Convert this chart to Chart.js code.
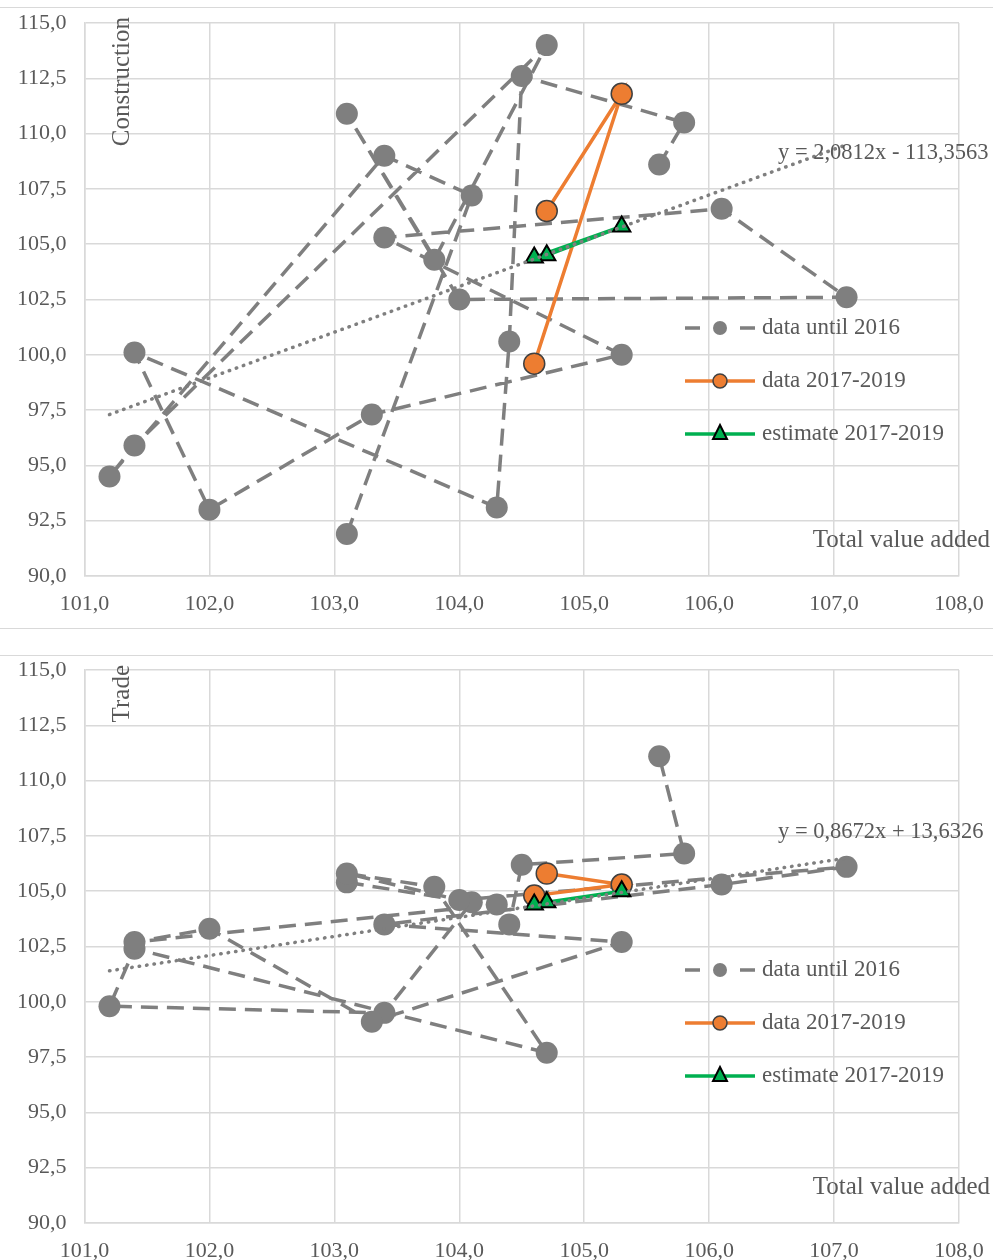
<!DOCTYPE html>
<html>
<head>
<meta charset="utf-8">
<script src="https://cdn.jsdelivr.net/npm/chart.js@4.4.1/dist/chart.umd.min.js"></script>
<style>
  body { margin: 0; background: #fff; width: 993px; height: 1260px; overflow: hidden; position: relative; }
  canvas { position: absolute; left: 0; }
  #construction { top: 0; }
  #trade { top: 647px; }
  .rule { position: absolute; left: 0; width: 993px; height: 0; border-top: 1.5px solid #d9d9d9; }
</style>
</head>
<body>
<div class="rule" style="top:7px"></div>
<div class="rule" style="top:628px"></div>
<div class="rule" style="top:655px"></div>
<canvas id="construction" width="993" height="630"></canvas>
<canvas id="trade" width="993" height="630"></canvas>
<script>
// x: total value added, one value per year (same years in both panels)
const totalValueAdded = [103.1, 104.1, 103.4, 101.2, 101.4, 104.7, 103.8, 103.1, 104.0, 107.1, 106.1,
                         103.4, 105.3, 103.3, 102.0, 101.4, 104.3, 104.4, 104.5, 105.8, 105.6];
const construction = [91.9, 107.2, 109.0, 94.5, 95.9, 114.0, 104.3, 110.9, 102.5, 102.6, 106.6,
                      105.3, 100.0, 97.3, 93.0, 100.1, 93.1, 100.6, 112.6, 110.5, 108.6];
const trade = [105.4, 104.5, 99.5, 99.8, 102.4, 97.7, 105.2, 105.8, 104.6, 106.1, 105.3,
               103.5, 102.7, 99.1, 103.3, 102.7, 104.4, 103.5, 106.2, 106.7, 111.1];

// 2017-2019
const recentX = [104.7, 105.3, 104.6];
const constructionRecent = [106.5, 111.8, 99.6];
const tradeRecent = [105.8, 105.3, 104.8];
const constructionEstimate = [104.5, 105.8, 104.4];
const tradeEstimate = [104.5, 105.0, 104.4];

// trendline ends
const trendX = [101.2, 107.1];
const constructionTrend = [97.3, 109.5];
const tradeTrend = [101.4, 106.5];

const seriesNames = ['data until 2016', 'data 2017-2019', 'estimate 2017-2019'];
const xAxisTitle = 'Total value added';

const FONT = '"Liberation Serif", "Times New Roman", serif';
const TEXT = '#595959';
const GRID = '#d9d9d9';
const GRAY = '#7f7f7f';
const ORANGE = '#ed7d31';
const GREEN = '#00b050';

const fmt = v => v.toFixed(1).replace('.', ',');
const pts = (xs, ys) => xs.map((x, i) => ({ x, y: ys[i] }));

/**
 * Legend, axis titles and trend equation drawn on top
 */
const overlay = {
  id: 'overlay',
  afterDraw(chart, args, opts) {
    const ctx = chart.ctx;
    const area = chart.chartArea;
    ctx.save();
    ctx.fillStyle = TEXT;
    ctx.font = `23px ${FONT}`;

    // legend
    const lx0 = 685, lx1 = 755, mx = 720, tx = 762;
    seriesNames.forEach((name, i) => {
      const y = area.top + opts.legendTop + i * 53;
      ctx.lineWidth = 3.5;
      ctx.setLineDash([]);
      if (i === 0) {
        ctx.strokeStyle = GRAY;
        ctx.beginPath();
        ctx.moveTo(lx0, y); ctx.lineTo(lx0 + 15, y);
        ctx.moveTo(lx1 - 15, y); ctx.lineTo(lx1, y);
        ctx.stroke();
        ctx.fillStyle = GRAY;
        ctx.beginPath(); ctx.arc(mx, y, 7, 0, Math.PI * 2); ctx.fill();
      } else if (i === 1) {
        ctx.strokeStyle = ORANGE;
        ctx.beginPath(); ctx.moveTo(lx0, y); ctx.lineTo(lx1, y); ctx.stroke();
        ctx.fillStyle = ORANGE;
        ctx.strokeStyle = '#404040';
        ctx.lineWidth = 1.5;
        ctx.beginPath(); ctx.arc(mx, y, 7, 0, Math.PI * 2); ctx.fill(); ctx.stroke();
      } else {
        ctx.strokeStyle = GREEN;
        ctx.beginPath(); ctx.moveTo(lx0, y); ctx.lineTo(lx1, y); ctx.stroke();
        ctx.fillStyle = GREEN;
        ctx.strokeStyle = '#000';
        ctx.lineWidth = 2;
        ctx.beginPath();
        ctx.moveTo(mx, y - 9); ctx.lineTo(mx + 7, y + 5); ctx.lineTo(mx - 7, y + 5);
        ctx.closePath(); ctx.fill(); ctx.stroke();
      }
      ctx.fillStyle = TEXT;
      ctx.textAlign = 'left';
      ctx.textBaseline = 'middle';
      ctx.fillText(name, tx, y);
    });

    // trend equation
    ctx.font = `22.5px ${FONT}`;
    ctx.textAlign = 'left';
    ctx.fillText(opts.equation, opts.eqX, opts.eqY);

    // x axis title
    ctx.font = `25px ${FONT}`;
    ctx.textAlign = 'right';
    ctx.fillText(xAxisTitle, 990, area.top + 517);

    // y axis title, rotated
    ctx.translate(122, opts.titleTop);
    ctx.rotate(-Math.PI / 2);
    ctx.textAlign = 'right';
    ctx.fillText(opts.title, 0, 0);
    ctx.restore();
  },
};

function makeChart(id, values, recent, estimate, trend, extra) {
  const ctx = document.getElementById(id).getContext('2d');
  return new Chart(ctx, {
    type: 'scatter',
    data: {
      datasets: [
        {
          label: 'trend',
          data: pts(trendX, trend),
          showLine: true,
          borderColor: GRAY,
          borderWidth: 3.5,
          borderDash: [0.5, 7],
          borderCapStyle: 'round',
          pointRadius: 0,
          order: 0,
        },
        {
          label: seriesNames[2],
          data: pts(recentX, estimate),
          showLine: true,
          borderColor: GREEN,
          borderWidth: 3.5,
          pointStyle: 'triangle',
          pointRadius: 10,
          pointBackgroundColor: GREEN,
          pointBorderColor: '#000',
          pointBorderWidth: 2,
          order: 1,
        },
        {
          label: seriesNames[1],
          data: pts(recentX, recent),
          showLine: true,
          borderColor: ORANGE,
          borderWidth: 3.5,
          pointRadius: 10.5,
          pointBackgroundColor: ORANGE,
          pointBorderColor: '#404040',
          pointBorderWidth: 1.5,
          order: 2,
        },
        {
          label: seriesNames[0],
          data: pts(totalValueAdded, values),
          showLine: true,
          borderColor: GRAY,
          borderWidth: 3.5,
          borderDash: [17, 9],
          pointRadius: 11,
          pointBackgroundColor: GRAY,
          pointBorderWidth: 0,
          order: 3,
        },
      ],
    },
    options: {
      responsive: false,
      animation: false,
      devicePixelRatio: 1,
      layout: { padding: { top: 23, right: 34, left: 0, bottom: 0 } },
      plugins: {
        legend: { display: false },
        tooltip: { enabled: false },
        overlay: extra,
      },
      scales: {
        x: {
          type: 'linear',
          min: 101,
          max: 108,
          afterFit: s => { s.height = 54; s.paddingLeft = 0; s.paddingRight = 0; },
          grid: { color: GRID, lineWidth: 1.5, drawTicks: false },
          border: { color: GRID, width: 1.5 },
          ticks: {
            stepSize: 1,
            padding: 15,
            color: TEXT,
            font: { family: FONT, size: 22 },
            callback: v => fmt(v),
          },
        },
        y: {
          type: 'linear',
          min: 90,
          max: 115,
          afterFit: s => { s.width = 84.5; s.paddingTop = 0; s.paddingBottom = 0; },
          grid: { color: GRID, lineWidth: 1.5, drawTicks: false },
          border: { color: GRID, width: 1.5 },
          ticks: {
            stepSize: 2.5,
            padding: 18,
            color: TEXT,
            font: { family: FONT, size: 22 },
            callback: v => fmt(v),
          },
        },
      },
    },
    plugins: [overlay],
  });
}

makeChart('construction', construction, constructionRecent, constructionEstimate, constructionTrend, {
  title: 'Construction',
  titleTop: 17,
  equation: 'y = 2,0812x - 113,3563',
  eqX: 778,
  eqY: 153,
  legendTop: 305,
});

makeChart('trade', trade, tradeRecent, tradeEstimate, tradeTrend, {
  title: 'Trade',
  titleTop: 18,
  equation: 'y = 0,8672x + 13,6326',
  eqX: 778,
  eqY: 185,
  legendTop: 300,
});
</script>
</body>
</html>
